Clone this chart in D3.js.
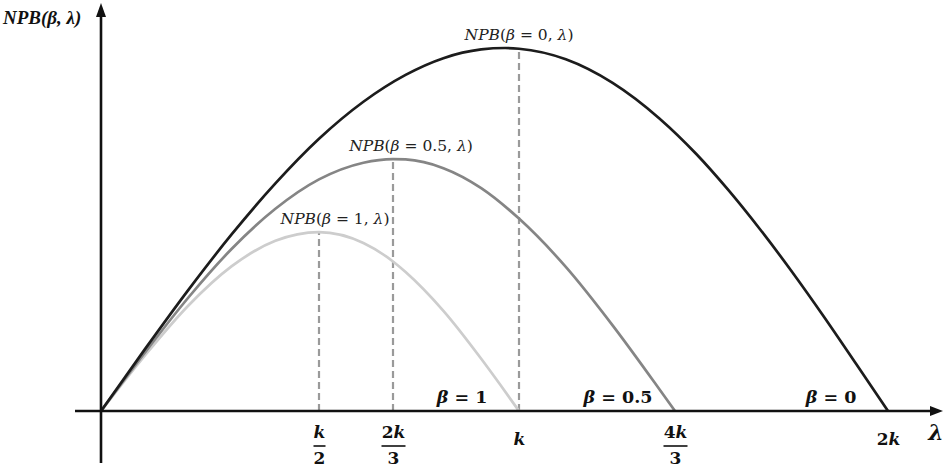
<!DOCTYPE html>
<html><head><meta charset="utf-8">
<script src="https://cdn.jsdelivr.net/npm/d3@7"></script>
<style>html,body{margin:0;padding:0;background:#fff;} svg{display:block}</style>
</head><body><svg id="chart" width="945" height="469"></svg>
<script>
// ---------- data (λ in units of k, NPB relative to the β=0 peak) ----------
const betaValues = ["0", "0.5", "1"];
const lambdaB0 = [0,0.1,0.2,0.3,0.4,0.5,0.6,0.7,0.8,0.9,0.963,1.0,1.1,1.2,1.3,1.4,1.5,1.6,1.7,1.8,1.9,2.0];
const npbB0    = [0,0.169,0.333,0.487,0.627,0.750,0.852,0.926,0.972,0.996,1.000,0.998,0.969,0.904,0.806,0.708,0.609,0.500,0.383,0.259,0.130,0];
const lambdaB05 = [0,0.1,0.2,0.3,0.4,0.5,0.6,2/3,0.7,0.8,0.9,1.0,1.1,1.2,1.3,4/3];
const npbB05    = [0,0.160,0.312,0.447,0.557,0.638,0.684,0.694,0.693,0.669,0.614,0.530,0.397,0.236,0.060,0];
const lambdaB1 = [0,0.1,0.2,0.3,0.4,0.5,0.6,2/3,0.7,0.8,0.9,0.95,1.0];
const npbB1    = [0,0.152,0.290,0.399,0.469,0.493,0.463,0.412,0.383,0.276,0.144,0.073,0];
const peakLambdas = [1, 2/3, 0.5];
const rootLambdas = [2, 4/3, 1];
const tickValues = [0.5, 2/3, 1, 4/3, 2];
const tickNumerators = ["k", "2k", "k", "4k", "2k"];
const tickDenominators = ["2", "3", "", "3", ""];
const yAxisTitle = "NPB(β, λ)";
const xAxisTitle = "λ";

// ---------- layout ----------
const x0 = 101, yBase = 411, yTop = 48;
const colors = ["#1c1c1c", "#858585", "#cdcdcd"];
const labelDx = [0, 18, 16];
const svg = d3.select("#chart");

const x = d3.scaleLinear()
  .domain([0].concat(tickValues))
  .range([x0, 319, 393, 519, 675, 888]);
const y = d3.scaleLinear().domain([0, 1]).range([yBase, yTop]);

const series = [
  {lam: lambdaB0, v: npbB0},
  {lam: lambdaB05, v: npbB05},
  {lam: lambdaB1, v: npbB1}
].map((s, i) => ({beta: betaValues[i], pts: s.lam.map((l, j) => [l, s.v[j]]), peakL: peakLambdas[i], rootL: rootLambdas[i], color: colors[i], dx: labelDx[i]}));

const serif = "'DejaVu Serif', 'Liberation Serif', serif";
const serif2 = "'Liberation Serif', 'DejaVu Serif', serif";

// helper: letters italic, digits/symbols upright
function mathText(sel, str, bold, allItalic) {
  const parts = str.match(/([A-Za-zβλ]+|[^A-Za-zβλ]+)/g) || [];
  parts.forEach(p => {
    const isVar = /[A-Za-zβλ]/.test(p);
    sel.append("tspan").text(p)
      .attr("font-style", (isVar || allItalic) ? "italic" : "normal")
      .attr("font-weight", bold ? "bold" : "normal");
  });
}

// dashed guide lines
series.forEach(s => {
  const peak = d3.max(s.pts, d => d[1]);
  svg.append("line")
    .attr("x1", x(s.peakL)).attr("x2", x(s.peakL))
    .attr("y1", yBase).attr("y2", y(peak))
    .attr("stroke", "#9a9a9a").attr("stroke-width", 2.2)
    .attr("stroke-dasharray", "7,4");
});

// curves
const line = d3.line().x(d => x(d[0])).y(d => y(d[1])).curve(d3.curveMonotoneX);
series.slice().reverse().forEach(s => {
  svg.append("path").attr("d", line(s.pts))
    .attr("fill", "none").attr("stroke", s.color).attr("stroke-width", 2.7);
});

// x axis (library axis, custom fraction labels)
const xAxis = d3.axisBottom(x).tickValues(tickValues).tickSize(0).tickFormat("");
const gx = svg.append("g").attr("transform", `translate(0,${yBase})`).call(xAxis);
gx.select(".domain").remove();
gx.selectAll(".tick").each(function(d, i) {
  const g = d3.select(this);
  const num = tickNumerators[i], den = tickDenominators[i];
  if (den) {
    const t1 = g.append("text").attr("y", 27).attr("text-anchor", "middle")
      .attr("font-family", serif).attr("font-size", 17).attr("fill", "#111");
    mathText(t1, num, true);
    const wdt = num.length > 1 ? 24 : 12;
    g.append("line").attr("x1", -wdt/2).attr("x2", wdt/2).attr("y1", 35).attr("y2", 35)
      .attr("stroke", "#111").attr("stroke-width", 1.6);
    const t2 = g.append("text").attr("y", 53).attr("text-anchor", "middle")
      .attr("font-family", serif).attr("font-size", 17).attr("fill", "#111");
    mathText(t2, den, true);
  } else {
    const t = g.append("text").attr("y", 34).attr("text-anchor", "middle")
      .attr("font-family", serif).attr("font-size", 17).attr("fill", "#111");
    mathText(t, num, true);
  }
});

// axis lines with arrows
svg.append("line").attr("x1", 75).attr("x2", 932).attr("y1", yBase).attr("y2", yBase)
  .attr("stroke", "#111").attr("stroke-width", 2.6);
svg.append("path").attr("d", `M943,${yBase} L930,${yBase-5} L930,${yBase+5} Z`).attr("fill", "#111");
svg.append("line").attr("x1", x0).attr("x2", x0).attr("y1", 463).attr("y2", 15)
  .attr("stroke", "#111").attr("stroke-width", 2.6);
svg.append("path").attr("d", `M${x0},3 L${x0-5},17 L${x0+5},17 Z`).attr("fill", "#111");

// axis titles
const yt = svg.append("text").attr("x", 3).attr("y", 24).attr("font-family", serif2)
  .attr("font-size", 19).attr("fill", "#111");
mathText(yt, yAxisTitle, true, true);
svg.append("text").attr("x", 936).attr("y", 440).attr("text-anchor", "middle")
  .attr("font-family", serif).attr("font-size", 22).attr("font-weight", "bold")
  .attr("font-style", "italic").attr("fill", "#111").text(xAxisTitle);

// curve labels NPB(β = b, λ)
series.forEach(s => {
  const peak = d3.max(s.pts, d => d[1]);
  const t = svg.append("text").attr("x", x(s.peakL) + s.dx).attr("y", y(peak) - 8)
    .attr("text-anchor", "middle").attr("font-family", serif).attr("font-size", 15.5).attr("fill", "#222");
  mathText(t, `NPB(β = ${s.beta}, λ)`, false);
});

// β labels near the roots
series.forEach(s => {
  const t = svg.append("text").attr("x", x(s.rootL) - 57).attr("y", 403)
    .attr("text-anchor", "middle").attr("font-family", serif).attr("font-size", 17.5).attr("fill", "#111");
  mathText(t, `β = ${s.beta}`, true);
});
</script>
</body></html>
